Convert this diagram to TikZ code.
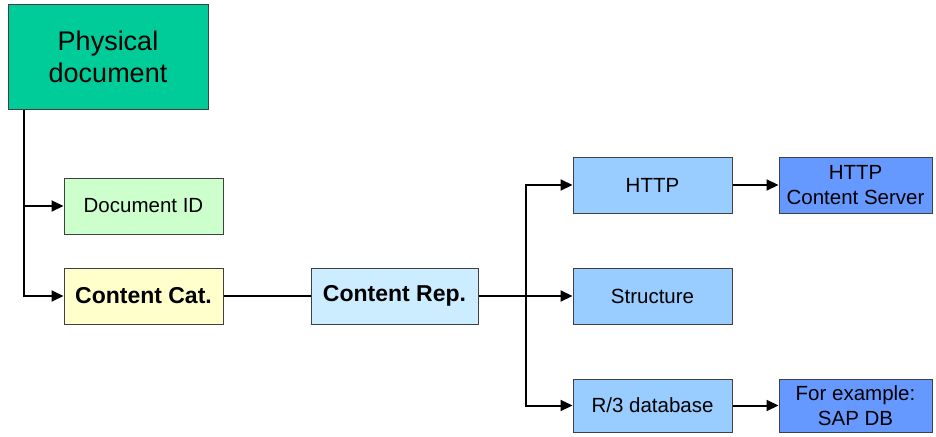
\documentclass[tikz,border=0pt]{standalone}
\usepackage{fontspec}
\setmainfont{Liberation Sans}
\usetikzlibrary{arrows.meta,calc}

\definecolor{physfill}{HTML}{00CC99}
\definecolor{idfill}{HTML}{CCFFCC}
\definecolor{catfill}{HTML}{FFFFCC}
\definecolor{repfill}{HTML}{CCECFF}
\definecolor{midfill}{HTML}{99CCFF}
\definecolor{endfill}{HTML}{6699FF}
\definecolor{edge}{HTML}{404040}

\tikzset{
  box/.style={draw=edge, line width=1pt, inner sep=0pt, align=center,
              font=\fontsize{20.5}{25}\selectfont},
  boldbox/.style={box, font=\fontsize{23}{27}\selectfont\bfseries},
  conn/.style={line width=2pt, black},
  arr/.style={conn, -{Triangle[length=12pt,width=11pt]}},
}

\begin{document}
\begin{tikzpicture}[x=1pt,y=-1pt]
  \useasboundingbox (0,0) rectangle (936,436);

  % boxes
  \node[box, fill=physfill, minimum width=200pt, minimum height=104pt,
        font=\fontsize{27}{32}\selectfont] (phys) at (108,57) {Physical\\document};
  \node[box, fill=idfill, minimum width=159pt, minimum height=56pt] (docid) at (143.5,206) {Document ID};
  \node[boldbox, fill=catfill, minimum width=159pt, minimum height=56pt] (ccat) at (143.5,296) {Content Cat.};
  \node[boldbox, fill=repfill, minimum width=167pt, minimum height=56pt] (crep) at (394.5,296) {Content Rep.};
  \node[box, fill=midfill, minimum width=159pt, minimum height=56pt] (http) at (652.5,185) {HTTP};
  \node[box, fill=midfill, minimum width=159pt, minimum height=56pt] (struct) at (652.5,296) {Structure};
  \node[box, fill=midfill, minimum width=159pt, minimum height=53pt] (r3) at (652.5,405.5) {R/3 database};
  \node[box, fill=endfill, minimum width=153pt, minimum height=56pt] (hcs) at (855.5,185) {HTTP\\Content Server};
  \node[box, fill=endfill, minimum width=153pt, minimum height=53pt] (sapdb) at (855.5,405.5) {For example:\\SAP DB};

  % connectors
  \coordinate (trunk) at ($(phys.south west)+(16,0)$);
  \draw[arr] (trunk) |- (docid.west);
  \draw[arr] (trunk) |- (ccat.west);
  \draw[conn] (ccat.east) -- (crep.west);
  \draw[arr] (crep.east) -- (struct.west);
  \coordinate (fork) at ($(crep.east)!0.5!(struct.west)$);
  \draw[arr] (fork) |- (http.west);
  \draw[arr] (fork) |- (r3.west);
  \draw[arr] (http.east) -- (hcs.west);
  \draw[arr] (r3.east) -- (sapdb.west);
\end{tikzpicture}
\end{document}
